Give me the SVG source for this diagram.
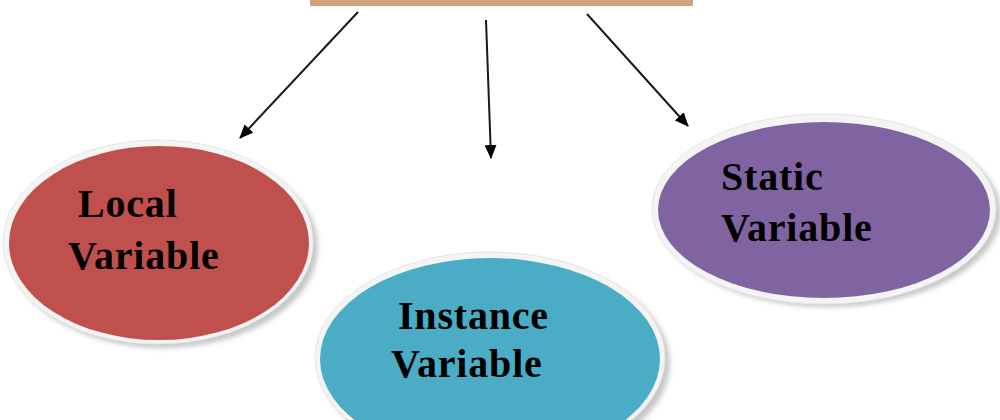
<svg xmlns="http://www.w3.org/2000/svg" width="1000" height="420" viewBox="0 0 1000 420">
<defs>
<marker id="ah" markerWidth="7" markerHeight="6" refX="6.5" refY="3" orient="auto" markerUnits="strokeWidth">
<path d="M0,0 L7,3 L0,6 Z" fill="#000"/>
</marker>
<filter id="sh" x="-20%" y="-20%" width="140%" height="140%">
<feGaussianBlur stdDeviation="2.5"/>
</filter>
<style>
.lbl{font-family:"Liberation Serif","Times New Roman",serif;font-weight:bold;font-size:40px;letter-spacing:0.8px;fill:#000}
.ring{fill:#f4f4f4;stroke:#e6e6e6;stroke-width:1}
.shadow{fill:#9a9a9a;opacity:0.55}
.conn{stroke:#1a1a1a;stroke-width:2;fill:none}
</style>
</defs>
<rect width="1000" height="420" fill="#fff"/>
<g id="top">
<rect x="310" y="-2" width="383" height="8" fill="#d2a27f"/>
</g>
<g id="connectors">
<line class="conn" x1="358" y1="12" x2="240" y2="138" marker-end="url(#ah)"/>
<line class="conn" x1="486" y1="20" x2="491" y2="158" marker-end="url(#ah)"/>
<line class="conn" x1="587" y1="14" x2="688" y2="126" marker-end="url(#ah)"/>
</g>
<g id="local">
<ellipse class="shadow" cx="163" cy="247" rx="155" ry="101" filter="url(#sh)"/>
<ellipse class="ring" cx="158" cy="242" rx="155" ry="102"/>
<ellipse cx="159" cy="243" rx="150" ry="97" fill="#c0504d"/>
<text class="lbl" x="78" y="217">Local</text>
<text class="lbl" x="68" y="269">Variable</text>
</g>
<g id="instance">
<ellipse class="shadow" cx="495" cy="363" rx="175" ry="106" filter="url(#sh)"/>
<ellipse class="ring" cx="490" cy="358" rx="175" ry="106"/>
<ellipse cx="490" cy="359" rx="170" ry="101" fill="#4bacc6"/>
<text class="lbl" x="398" y="329">Instance</text>
<text class="lbl" x="391" y="377">Variable</text>
</g>
<g id="static">
<ellipse class="shadow" cx="829" cy="213" rx="172" ry="94" filter="url(#sh)"/>
<ellipse class="ring" cx="824" cy="209" rx="172" ry="95"/>
<ellipse cx="824" cy="210" rx="166" ry="88" fill="#8064a2"/>
<text class="lbl" x="721" y="190">Static</text>
<text class="lbl" x="721" y="241">Variable</text>
</g>
</svg>
